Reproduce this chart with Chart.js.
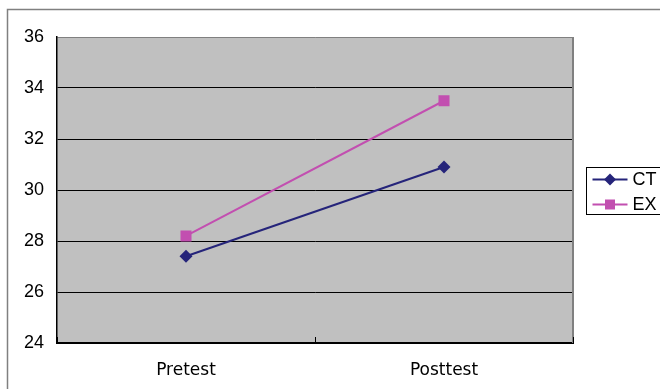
<!DOCTYPE html>
<html>
<head>
<meta charset="utf-8">
<script src="https://cdn.jsdelivr.net/npm/chart.js@4/dist/chart.umd.min.js"></script>
<style>
  html, body { margin: 0; padding: 0; background: #fff; }
  #wrap { width: 660px; height: 389px; position: relative; }
</style>
</head>
<body>
<div id="wrap"><canvas id="c" width="660" height="389"></canvas></div>
<script>
// Test phases and group means
const categories = ['Pretest', 'Posttest'];
const seriesNames = ['CT', 'EX'];
const ctValues = [27.4, 30.9];
const exValues = [28.2, 33.5];
const yTicks = [24, 26, 28, 30, 32, 34, 36];

const CT_COLOR = '#25247a';
const EX_COLOR = '#c24fb0';
const PLOT_BG = '#c0c0c0';

// Frame, plot background and Excel-style tick marks
const framePlugin = {
  id: 'frame',
  beforeDraw(chart) {
    const ctx = chart.ctx;
    const a = chart.chartArea;
    ctx.save();
    // outer chart border (top and left edges)
    ctx.strokeStyle = '#808080';
    ctx.lineWidth = 1.5;
    ctx.beginPath();
    ctx.moveTo(chart.width + 2, 9.5);
    ctx.lineTo(7.5, 9.5);
    ctx.lineTo(7.5, chart.height + 2);
    ctx.stroke();
    // plot area fill
    ctx.fillStyle = PLOT_BG;
    ctx.fillRect(a.left, a.top, a.right - a.left, a.bottom - a.top);
    ctx.restore();
  },
  beforeDatasetsDraw(chart) {
    const ctx = chart.ctx;
    const a = chart.chartArea;
    const xs = chart.scales.x;
    ctx.save();
    // right edge of plot area in gray
    ctx.strokeStyle = '#808080';
    ctx.lineWidth = 2;
    ctx.beginPath();
    ctx.moveTo(a.right, a.top);
    ctx.lineTo(a.right, a.bottom);
    ctx.stroke();
    // category separator ticks pointing into the plot
    ctx.strokeStyle = '#000';
    ctx.lineWidth = 1;
    const n = xs.ticks.length;
    for (let i = 0; i <= n; i++) {
      let px;
      if (i === 0) px = a.left;
      else if (i === n) px = a.right;
      else px = (xs.getPixelForTick(i - 1) + xs.getPixelForTick(i)) / 2;
      ctx.beginPath();
      ctx.moveTo(Math.round(px) + 0.5, a.bottom);
      ctx.lineTo(Math.round(px) + 0.5, a.bottom - 6);
      ctx.stroke();
    }
    ctx.restore();
  }
};

// Boxed legend to the right of the plot
const boxLegend = {
  id: 'boxLegend',
  afterDraw(chart) {
    const ctx = chart.ctx;
    const a = chart.chartArea;
    const left = a.right + 13.5;
    const rowH = 25;
    const boxH = 47;
    const top = Math.round((a.top + a.bottom) / 2 - boxH / 2) + 0.5;
    ctx.save();
    ctx.strokeStyle = '#000';
    ctx.lineWidth = 1;
    ctx.strokeRect(left, top, 90, boxH);
    ctx.font = '18px "Liberation Sans", Arial, sans-serif';
    ctx.textBaseline = 'middle';
    ctx.fillStyle = '#000';
    chart.data.datasets.forEach((ds, i) => {
      const y = top + 12 + i * rowH;
      const x0 = left + 6, x1 = left + 41, xm = (x0 + x1) / 2;
      ctx.strokeStyle = ds.borderColor;
      ctx.lineWidth = 2;
      ctx.beginPath();
      ctx.moveTo(x0, y);
      ctx.lineTo(x1, y);
      ctx.stroke();
      ctx.fillStyle = ds.pointBackgroundColor;
      ctx.beginPath();
      if (ds.pointStyle === 'rectRot') {
        const r = 6;
        ctx.moveTo(xm, y - r); ctx.lineTo(xm + r, y); ctx.lineTo(xm, y + r); ctx.lineTo(xm - r, y);
        ctx.closePath();
      } else {
        ctx.rect(xm - 5, y - 5, 10, 10);
      }
      ctx.fill();
      ctx.fillStyle = '#000';
      ctx.fillText(ds.label, x1 + 5, y + 1);
    });
    ctx.restore();
  }
};

new Chart(document.getElementById('c'), {
  type: 'line',
  data: {
    labels: categories,
    datasets: [
      {
        label: seriesNames[0],
        data: ctValues,
        borderColor: CT_COLOR,
        backgroundColor: CT_COLOR,
        pointBackgroundColor: CT_COLOR,
        pointBorderColor: CT_COLOR,
        pointStyle: 'rectRot',
        pointRadius: 6.5,
        pointBorderWidth: 0,
        borderWidth: 2,
        tension: 0
      },
      {
        label: seriesNames[1],
        data: exValues,
        borderColor: EX_COLOR,
        backgroundColor: EX_COLOR,
        pointBackgroundColor: EX_COLOR,
        pointBorderColor: EX_COLOR,
        pointStyle: 'rect',
        pointRadius: 7.8,
        pointBorderWidth: 0,
        borderWidth: 2,
        tension: 0
      }
    ]
  },
  options: {
    responsive: false,
    animation: false,
    events: [],
    layout: { padding: { left: 0, top: 37, right: 87, bottom: 0 } },
    plugins: { legend: { display: false }, tooltip: { enabled: false } },
    scales: {
      x: {
        offset: true,
        grid: { display: false, drawTicks: false },
        border: { display: true, color: '#000', width: 2 },
        ticks: {
          color: '#000',
          padding: 17,
          font: { family: '"DejaVu Sans", sans-serif', size: 17 }
        },
        afterFit(s) { s.height = 46; }
      },
      y: {
        min: yTicks[0],
        max: yTicks[yTicks.length - 1],
        afterBuildTicks(s) { s.ticks = yTicks.map(v => ({ value: v })); },
        grid: {
          color: c => (c.tick && c.tick.value === yTicks[yTicks.length - 1]) ? '#808080' : '#000',
          lineWidth: 1,
          drawTicks: false
        },
        border: { display: true, color: '#000', width: 1.5 },
        ticks: {
          color: '#000',
          padding: 13,
          font: { family: '"Liberation Sans", Arial, sans-serif', size: 18 }
        },
        afterFit(s) { s.width = 57; }
      }
    }
  },
  plugins: [framePlugin, boxLegend]
});
</script>
</body>
</html>
